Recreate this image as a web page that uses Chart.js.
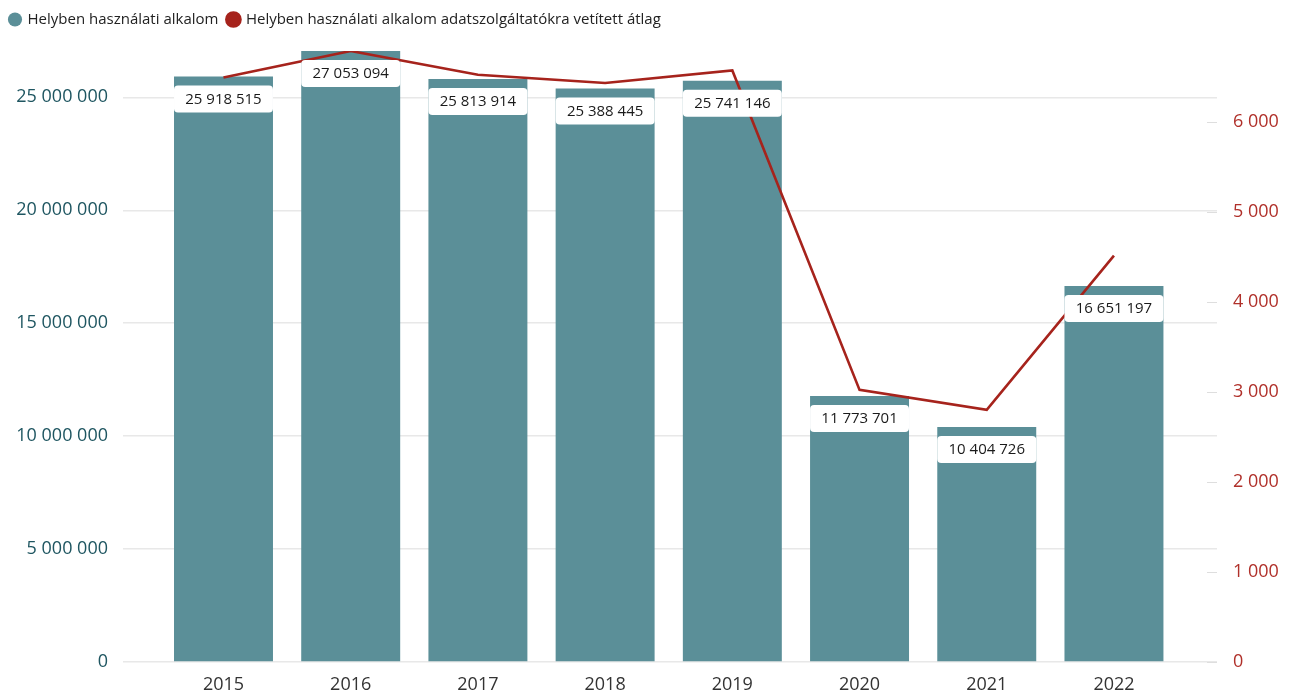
<!DOCTYPE html>
<html>
<head>
<meta charset="utf-8">
<script src="https://cdn.jsdelivr.net/npm/chart.js@4/dist/chart.umd.min.js"></script>
<style>
html,body{margin:0;padding:0;background:#fff;}
#wrap{width:1293px;height:695px;position:relative;}
</style>
</head>
<body>
<div id="wrap"><canvas id="c"></canvas></div>
<script>
const categories = ['2015','2016','2017','2018','2019','2020','2021','2022'];
const usageCounts = [25918515, 27053094, 25813914, 25388445, 25741146, 11773701, 10404726, 16651197];
const avgPerProvider = [6492, 6786, 6522, 6430, 6570, 3022, 2800, 4514];
const leftTicks = [0, 5000000, 10000000, 15000000, 20000000, 25000000];
const rightTicks = [0, 1000, 2000, 3000, 4000, 5000, 6000];
const seriesNames = ['Helyben használati alkalom', 'Helyben használati alkalom adatszolgáltatókra vetített átlag'];

const fmt = v => String(Math.round(v)).replace(/\B(?=(\d{3})+(?!\d))/g, ' ');
const FONT = '"Open Sans", "Noto Sans", sans-serif';

const labelPlugin = {
  id: 'barLabels',
  afterDatasetsDraw(chart) {
    const ctx = chart.ctx;
    const meta = chart.getDatasetMeta(0);
    ctx.save();
    meta.data.forEach((bar, i) => {
      const w = bar.width;
      const x = bar.x - w / 2;
      const y = bar.y + 9;
      const h = 27;
      ctx.fillStyle = '#ffffff';
      ctx.beginPath();
      ctx.roundRect(x, y, w, h, 4);
      ctx.fill();
      ctx.fillStyle = '#1a1a1a';
      ctx.font = '15px ' + FONT;
      ctx.textAlign = 'center';
      ctx.textBaseline = 'middle';
      ctx.fillText(fmt(usageCounts[i]), bar.x, y + h / 2 + 0.5);
    });
    ctx.restore();
  }
};

const rightMarks = {
  id: 'rightMarks',
  afterDraw(chart) {
    const s = chart.scales.y1;
    const ctx = chart.ctx;
    const r = chart.chartArea.right;
    ctx.save();
    ctx.strokeStyle = '#dedede';
    ctx.lineWidth = 1;
    s.ticks.forEach(t => {
      const py = Math.round(s.getPixelForValue(t.value)) + 0.5;
      ctx.beginPath();
      ctx.moveTo(r - 10, py);
      ctx.lineTo(r, py);
      ctx.stroke();
    });
    ctx.restore();
  }
};

const spacerPlugin = {
  id: 'spacer',
  beforeInit(chart) {
    const box = {
      position: 'top', weight: 0, fullSize: true,
      options: {},
      top: 0, left: 0, right: 0, bottom: 0, width: 0, height: 0,
      isHorizontal() { return true; },
      update(maxWidth) { this.width = maxWidth; this.height = 14; return this; },
      draw() {}
    };
    Chart.layouts.addBox(chart, box);
  }
};

new Chart(document.getElementById('c'), {
  type: 'bar',
  data: {
    datasets: [
      {
        type: 'bar',
        label: seriesNames[0],
        data: usageCounts.map((v, i) => ({x: i, y: v})),
        backgroundColor: '#5b8f98',
        borderWidth: 0,
        barPercentage: 0.778,
        categoryPercentage: 1,
        yAxisID: 'y',
        order: 1
      },
      {
        type: 'line',
        label: seriesNames[1],
        data: avgPerProvider.map((v, i) => ({x: i, y: v})),
        borderColor: '#a6231c',
        backgroundColor: '#a6231c',
        borderWidth: 2.6,
        pointRadius: 0,
        pointHoverRadius: 0,
        tension: 0,
        yAxisID: 'y1',
        order: 0
      }
    ]
  },
  options: {
    responsive: true,
    maintainAspectRatio: false,
    animation: false,
    layout: {padding: {left: 0, right: 0, top: 2, bottom: 0}},
    plugins: {
      tooltip: {enabled: false},
      legend: {
        position: 'top',
        align: 'start',
        labels: {
          usePointStyle: true,
          pointStyle: 'circle',
          boxWidth: 10,
          boxHeight: 10,
          padding: 10,
          color: '#222',
          font: {family: FONT, size: 15},
          sort: (a, b) => a.datasetIndex - b.datasetIndex
        }
      }
    },
    scales: {
      x: {
        type: 'linear',
        offset: false,
        min: -0.79,
        max: 7.81,
        grid: {display: false, offset: false},
        border: {display: false},
        afterBuildTicks: s => { s.ticks = categories.map((c, i) => ({value: i})); },
        afterFit: s => { s.height = 33; },
        ticks: {
          autoSkip: false,
          maxRotation: 0,
          padding: 4,
          color: '#333',
          font: {family: FONT, size: 18},
          callback: v => categories[v] ?? ''
        }
      },
      y: {
        position: 'left',
        min: 0,
        max: Math.max(...usageCounts),
        afterBuildTicks: s => { s.ticks = leftTicks.map(v => ({value: v})); },
        afterFit: s => { s.width = 123; },
        grid: {color: '#e8e8e8', lineWidth: 1.5, drawTicks: false},
        border: {display: false},
        ticks: {
          padding: 15,
          color: '#1f5661',
          font: {family: FONT, size: 18},
          callback: v => fmt(v)
        }
      },
      y1: {
        position: 'right',
        min: 0,
        max: Math.max(...avgPerProvider),
        afterBuildTicks: s => { s.ticks = rightTicks.map(v => ({value: v})); },
        afterFit: s => { s.width = 1293 - 1217; },
        grid: {display: false, drawOnChartArea: false, drawTicks: false},
        border: {display: false},
        ticks: {
          padding: 16,
          color: '#b0302a',
          font: {family: FONT, size: 18},
          callback: v => fmt(v)
        }
      }
    }
  },
  plugins: [labelPlugin, rightMarks, spacerPlugin]
});
</script>
</body>
</html>
